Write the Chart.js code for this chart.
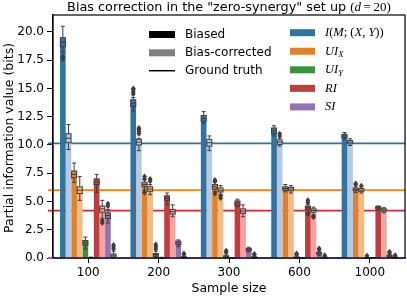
<!DOCTYPE html>
<html><head><meta charset="utf-8">
<script src="https://cdn.jsdelivr.net/npm/chart.js@4"></script>
<style>html,body{margin:0;padding:0;background:#fff}canvas{display:block}</style>
</head><body>
<canvas id="c" width="407" height="297" style="width:407px;height:297px"></canvas>
<script>
// ---------- DATA ----------
const categories = ['100', '200', '300', '600', '1000'];
const measureLabels = ['I(M;(X,Y))', 'UI_X', 'UI_Y', 'RI', 'SI'];

// bar heights (biased / bias-corrected) per measure
const biasedI    = [19.1, 13.7, 12.35, 11.25, 10.8];
const correctedI = [10.6, 10.25, 10.2, 10.25, 10.25];
const biasedUIX    = [7.4, 6.5, 6.3, 6.15, 6.08];
const correctedUIX = [6.0, 6.1, 6.0, 6.1, 6.0];
const biasedUIY    = [1.35, 0.3, 0.15, 0.05, 0.02];
const correctedUIY = [0.02, 0.02, 0.01, 0.01, 0.01];
const biasedRI    = [6.75, 5.3, 4.85, 4.45, 4.45];
const correctedRI = [4.35, 4.1, 4.15, 4.2, 4.25];
const biasedSI    = [3.75, 1.35, 0.77, 0.45, 0.2];
const correctedSI = [0.25, 0.05, 0.05, 0.05, 0.05];

// box stats per sample size: [whiskerLow, q1, median, q3, whiskerHigh]
const boxBiasedI    = [[18.2,18.7,19.1,19.5,20.5],[13.0,13.4,13.7,14.0,14.2],[11.9,12.1,12.35,12.6,12.95],[10.8,11.0,11.25,11.5,11.7],[10.5,10.65,10.8,10.95,11.1]];
const boxCorrectedI = [[9.6,10.2,10.6,11.0,11.8],[9.5,10.0,10.25,10.5,10.6],[9.5,9.9,10.2,10.5,10.8],[9.9,10.05,10.25,10.45,10.6],[9.95,10.1,10.25,10.4,10.55]];
const boxBiasedUIX    = [[6.7,7.1,7.4,7.7,8.4],[6.0,6.3,6.5,6.7,6.9],[5.9,6.1,6.3,6.5,6.7],[5.85,6.0,6.15,6.3,6.5],[5.8,5.95,6.08,6.2,6.35]];
const boxCorrectedUIX = [[5.1,5.7,6.0,6.3,7.2],[5.6,5.9,6.1,6.3,6.5],[5.6,5.85,6.0,6.2,6.4],[5.75,5.95,6.1,6.25,6.4],[5.75,5.9,6.0,6.15,6.3]];
const boxBiasedUIY    = [[0.8,1.15,1.35,1.55,1.85],[0.0,0.15,0.3,0.4,0.6],[0.0,0.05,0.15,0.2,0.35],[0.0,0.0,0.05,0.1,0.2],[0.0,0.0,0.02,0.04,0.1]];
const boxCorrectedUIY = [[0,0,0.02,0.04,0.08],[0,0,0.02,0.03,0.06],[0,0,0.01,0.02,0.04],[0,0,0.01,0.02,0.03],[0,0,0.01,0.02,0.03]];
const boxBiasedRI    = [[5.8,6.5,6.75,7.0,7.4],[4.7,5.1,5.3,5.5,5.75],[4.55,4.65,4.85,5.05,5.2],[4.0,4.3,4.45,4.6,4.75],[4.2,4.35,4.45,4.55,4.6]];
const boxCorrectedRI = [[3.5,4.05,4.35,4.6,5.1],[3.65,3.9,4.1,4.3,4.7],[3.65,3.95,4.15,4.35,4.7],[3.8,4.05,4.2,4.35,4.5],[4.0,4.15,4.25,4.35,4.45]];
const boxBiasedSI    = [[3.1,3.5,3.75,4.0,4.3],[1.0,1.2,1.35,1.5,1.6],[0.55,0.65,0.77,0.85,0.95],[0.2,0.35,0.45,0.5,0.6],[0.05,0.12,0.2,0.25,0.35]];
const boxCorrectedSI = [[0.0,0.1,0.25,0.35,0.6],[0,0,0.05,0.1,0.15],[0,0,0.05,0.1,0.15],[0,0,0.05,0.08,0.12],[0,0,0.05,0.08,0.12]];

// outliers per sample size
const outBiasedI    = [[17.6,17.8],[14.5,14.7,14.9,15.0],[],[],[]];
const outCorrectedI = [[],[11.0,11.2,11.4,11.5],[],[10.8,11.0],[]];
const outBiasedUIX    = [[],[5.8,7.0,7.2],[5.7,6.8,6.9],[],[6.5,6.6]];
const outCorrectedUIX = [[],[6.8,7.0],[5.3,5.5],[],[6.4]];
const outBiasedUIY    = [[],[0.8,1.0,1.2],[0.5,0.65],[0.3,0.4],[0.2]];
const outCorrectedUIY = [[],[],[],[],[]];
const outBiasedRI    = [[],[],[],[3.9,4.9,5.1],[]];
const outCorrectedRI = [[3.1,3.3],[],[],[3.6,3.7],[]];
const outBiasedSI    = [[4.6,4.8],[],[],[0.75,0.85],[0.45,0.55]];
const outCorrectedSI = [[0.8,1.0,1.15],[0.3,0.4],[0.3,0.35],[0.25],[0.25]];

// ground truth per measure
const groundTruth = [10.15, 6.0, 0.0, 4.2, 0.0];
const yTicks = [0, 2.5, 5, 7.5, 10, 12.5, 15, 17.5, 20];

// ---------- STYLE ----------
const darkCols  = ['#3274a1', '#e1812c', '#3a923a', '#c03d3e', '#9372b2'];
const lightCols = ['#b5c9e2', '#eebb89', '#9fd495', '#f2a4a3', '#c4b5d0'];
const truthCols = ['#1f77b4', '#ff7f0e', '#2ca02c', '#d62728', '#9467bd'];
const SANS = "'DejaVu Sans', sans-serif";
const SERIF = "'Liberation Serif', 'DejaVu Serif', serif";
const EDGE = '#3d3d3d';

const series = [
  [biasedI, boxBiasedI, outBiasedI], [correctedI, boxCorrectedI, outCorrectedI],
  [biasedUIX, boxBiasedUIX, outBiasedUIX], [correctedUIX, boxCorrectedUIX, outCorrectedUIX],
  [biasedUIY, boxBiasedUIY, outBiasedUIY], [correctedUIY, boxCorrectedUIY, outCorrectedUIY],
  [biasedRI, boxBiasedRI, outBiasedRI], [correctedRI, boxCorrectedRI, outCorrectedRI],
  [biasedSI, boxBiasedSI, outBiasedSI], [correctedSI, boxCorrectedSI, outCorrectedSI]
];

const datasets = series.map((s, i) => {
  const m = Math.floor(i / 2), corrected = i % 2 === 1;
  return {
    label: measureLabels[m] + (corrected ? ' corrected' : ' biased'),
    data: s[0],
    backgroundColor: corrected ? lightCols[m] : darkCols[m],
    borderWidth: 0,
    categoryPercentage: 0.8,
    barPercentage: 1.0,
    stats: s[1], outliers: s[2]
  };
});

function drawRuns(ctx, runs, x, y, size, align) {
  const fonts = runs.map(r => {
    const sz = r[2] ? size * 0.7 : size;
    return (r[1] ? 'italic ' : '') + sz + 'px ' + SERIF;
  });
  let total = 0;
  runs.forEach((r, i) => { ctx.font = fonts[i]; total += ctx.measureText(r[0]).width; });
  let cx = align === 'center' ? x - total / 2 : x;
  ctx.textAlign = 'left';
  runs.forEach((r, i) => {
    ctx.font = fonts[i];
    ctx.fillText(r[0], cx, y + (r[2] ? size * 0.3 : 0));
    cx += ctx.measureText(r[0]).width;
  });
}

const overlay = {
  id: 'overlay',
  beforeDatasetsDraw(chart) {
    const {ctx, chartArea: a, scales: {y}} = chart;
    ctx.save();
    groundTruth.forEach((g, m) => {
      const py = y.getPixelForValue(g);
      ctx.strokeStyle = truthCols[m];
      ctx.lineWidth = 1.8;
      ctx.beginPath(); ctx.moveTo(a.left - 5, py); ctx.lineTo(a.right, py); ctx.stroke();
    });
    ctx.restore();
  },
  afterDatasetsDraw(chart) {
    const {ctx, scales: {y}} = chart;
    ctx.save();
    chart.data.datasets.forEach((ds, i) => {
      const meta = chart.getDatasetMeta(i);
      meta.data.forEach((bar, j) => {
        const st = ds.stats[j];
        const cx = bar.x, w = bar.width;
        const P = v => y.getPixelForValue(v);
        ctx.strokeStyle = EDGE; ctx.lineWidth = 1;
        ctx.beginPath();
        ctx.moveTo(cx, P(st[0])); ctx.lineTo(cx, P(st[1]));
        ctx.moveTo(cx, P(st[3])); ctx.lineTo(cx, P(st[4]));
        ctx.moveTo(cx - 2, P(st[0])); ctx.lineTo(cx + 2, P(st[0]));
        ctx.moveTo(cx - 2, P(st[4])); ctx.lineTo(cx + 2, P(st[4]));
        ctx.stroke();
        const bw = w * 0.9;
        const top = P(st[3]), bot = P(st[1]);
        ctx.fillStyle = ds.backgroundColor;
        ctx.fillRect(cx - bw / 2, top, bw, bot - top);
        ctx.strokeRect(cx - bw / 2, top, bw, bot - top);
        ctx.beginPath(); ctx.moveTo(cx - bw / 2, P(st[2])); ctx.lineTo(cx + bw / 2, P(st[2])); ctx.stroke();
        ctx.fillStyle = EDGE;
        ds.outliers[j].forEach(v => {
          const py = P(v);
          ctx.beginPath();
          ctx.moveTo(cx, py - 3); ctx.lineTo(cx + 2.4, py); ctx.lineTo(cx, py + 3); ctx.lineTo(cx - 2.4, py);
          ctx.closePath(); ctx.fill();
        });
      });
    });
    ctx.restore();
  },
  afterDraw(chart) {
    const {ctx, chartArea: a} = chart;
    ctx.save();
    ctx.strokeStyle = '#000'; ctx.lineWidth = 1.2;
    ctx.strokeRect(a.left, a.top, a.right - a.left, a.bottom - a.top);
    ctx.fillStyle = '#000';
    ctx.textBaseline = 'middle';
    // title
    const titleMain = 'Bias correction in the "zero-synergy" set up ';
    const TS = 12.8;
    ctx.font = TS + 'px ' + SANS;
    const tw = ctx.measureText(titleMain).width;
    const mathParts = [['(', false], ['d', true], ['\u2009=\u200920)', false]];
    let mw = 0;
    mathParts.forEach(p => { ctx.font = (p[1] ? 'italic ' : '') + '13px ' + SERIF; mw += ctx.measureText(p[0]).width; });
    let tx = (a.left + a.right) / 2 - (tw + mw) / 2;
    ctx.textAlign = 'left';
    ctx.font = TS + 'px ' + SANS;
    ctx.fillText(titleMain, tx, 8);
    tx += tw;
    mathParts.forEach(p => { ctx.font = (p[1] ? 'italic ' : '') + '13px ' + SERIF; ctx.fillText(p[0], tx, 8); tx += ctx.measureText(p[0]).width; });
    // axis titles
    ctx.textAlign = 'center';
    ctx.font = '12.5px ' + SANS;
    ctx.fillText('Sample size', (a.left + a.right) / 2, 288.5);
    ctx.save();
    ctx.translate(10, 138);
    ctx.rotate(-Math.PI / 2);
    ctx.fillText('Partial information value (bits)', 0, 0);
    ctx.restore();
    // left legend
    ctx.textAlign = 'left';
    ctx.font = '12px ' + SANS;
    ctx.fillStyle = '#000'; ctx.fillRect(149, 31, 26, 7);
    ctx.fillStyle = '#808080'; ctx.fillRect(149, 49.3, 26, 7);
    ctx.strokeStyle = '#000'; ctx.lineWidth = 1.5;
    ctx.beginPath(); ctx.moveTo(149, 70.7); ctx.lineTo(175, 70.7); ctx.stroke();
    ctx.fillStyle = '#000';
    ctx.fillText('Biased', 185, 34.5);
    ctx.fillText('Bias-corrected', 185, 52.8);
    ctx.fillText('Ground truth', 185, 71);
    // right legend
    const labRuns = [
      [['I', true], ['(', false], ['M', true], ['; (', false], ['X', true], [', ', false], ['Y', true], ['))', false]],
      [['UI', true], ['X', true, true]],
      [['UI', true], ['Y', true, true]],
      [['RI', true]],
      [['SI', true]]
    ];
    labRuns.forEach((runs, m) => {
      const cy = 32.7 + m * 18.55;
      ctx.fillStyle = darkCols[m];
      ctx.fillRect(290, cy - 3.5, 25, 7);
      ctx.fillStyle = '#000';
      drawRuns(ctx, runs, 325, cy, 12.5, 'left');
    });
    ctx.restore();
  }
};

new Chart(document.getElementById('c'), {
  type: 'bar',
  data: { labels: categories, datasets },
  options: {
    responsive: false,
    animation: false,
    devicePixelRatio: 1,
    layout: { padding: { top: 15, right: 2, left: 0, bottom: 0 } },
    plugins: { legend: { display: false }, title: { display: false }, tooltip: { enabled: false } },
    scales: {
      x: {
        grid: { display: true, drawOnChartArea: false, offset: false, tickLength: 5, color: '#000', lineWidth: 1 },
        border: { display: true, color: '#000', width: 1.2 },
        ticks: { color: '#000', font: { family: SANS, size: 12 }, padding: 3, maxRotation: 0 },
        afterFit: s => { s.height = 39; }
      },
      y: {
        min: 0, max: 21.5,
        afterBuildTicks: s => { s.ticks = yTicks.map(v => ({ value: v })); },
        grid: { display: true, drawOnChartArea: false, tickLength: 6, color: '#000', lineWidth: 1 },
        border: { display: true, color: '#000', width: 1.2 },
        ticks: { color: '#000', font: { family: SANS, size: 12 }, padding: 3, callback: v => Number(v).toFixed(1) },
        afterFit: s => { s.width = 53; }
      }
    }
  },
  plugins: [overlay]
});
</script>
</body></html>
